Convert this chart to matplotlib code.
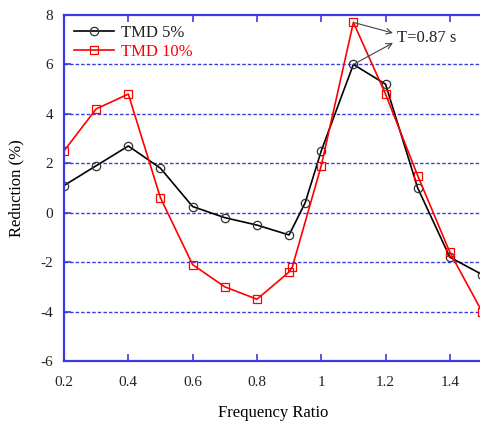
import matplotlib
matplotlib.use("Agg")
import matplotlib.pyplot as plt

# frequency ratio values
ratio_5 = [0.2, 0.3, 0.4, 0.5, 0.6, 0.7, 0.8, 0.9, 0.95, 1.0, 1.1, 1.2, 1.3, 1.4, 1.5]
tmd_5 = [1.1, 1.9, 2.7, 1.8, 0.25, -0.2, -0.5, -0.9, 0.4, 2.5, 6.0, 5.2, 1.0, -1.8, -2.5]

ratio_10 = [0.2, 0.3, 0.4, 0.5, 0.6, 0.7, 0.8, 0.9, 0.91, 1.0, 1.1, 1.2, 1.3, 1.4, 1.5]
tmd_10 = [2.5, 4.2, 4.8, 0.6, -2.1, -3.0, -3.5, -2.4, -2.2, 1.9, 7.7, 4.8, 1.5, -1.6, -4.0]

xticks = [0.2, 0.4, 0.6, 0.8, 1.0, 1.2, 1.4]
xticklabels = ["0.2", "0.4", "0.6", "0.8", "1", "1.2", "1.4"]
yticks = [-6, -4, -2, 0, 2, 4, 6, 8]

blue = "#3a3ae0"
plt.rcParams['font.family'] = ['Liberation Serif', 'DejaVu Serif']
plt.rcParams['axes.unicode_minus'] = False

fig = plt.figure(figsize=(4.8, 4.23), dpi=100)
ax = fig.add_axes([64 / 480, 62 / 423, 418 / 480, 346 / 423])

ax.plot(ratio_5, tmd_5, color="black", lw=1.2, marker="o", ms=6,
        mfc="none", mec="#333333", mew=0.9, label="TMD 5%")
ax.plot(ratio_10, tmd_10, color="red", lw=1.2, marker="s", ms=6,
        mfc="none", mec="red", mew=0.9, label="TMD 10%")

ax.set_xlim(0.2, 1.5)
ax.set_ylim(-6, 8)
ax.set_xticks(xticks)
ax.set_xticklabels(xticklabels)
ax.set_yticks(yticks)

for y in yticks[1:-1]:
    ax.axhline(y, color=blue, lw=1.0, ls=(0, (2.5, 1.5)), zorder=0)

for side in ["left", "bottom", "top"]:
    ax.spines[side].set_color(blue)
    ax.spines[side].set_linewidth(1.6)
ax.spines["right"].set_visible(False)

ax.tick_params(axis="both", direction="in", color=blue, width=1.2, length=5,
               labelsize=11, labelcolor="#222222", top=True)
ax.tick_params(axis="x", pad=11)
ax.tick_params(axis="y", pad=8)

ax.set_xlabel("Frequency Ratio", fontsize=12, labelpad=11)
ax.set_ylabel("Reduction (%)", fontsize=12, labelpad=11)

leg = ax.legend(loc="upper left", frameon=False, fontsize=12,
                handlelength=2.4, borderaxespad=0.2, handletextpad=0.4,
                labelspacing=0.2)
for txt, c in zip(leg.get_texts(), ["#222222", "red"]):
    txt.set_color(c)

ax.text(1.236, 7.07, "T=0.87 s", fontsize=12, va="center", color="#222222")
ax.annotate("", xy=(1.223, 7.27), xytext=(1.1, 7.7),
            arrowprops=dict(arrowstyle="->", color="#444444", lw=0.8,
                            shrinkA=0, shrinkB=0))
ax.annotate("", xy=(1.223, 6.87), xytext=(1.1, 6.0),
            arrowprops=dict(arrowstyle="->", color="#444444", lw=0.8,
                            shrinkA=0, shrinkB=0))

fig.savefig("out.png", dpi=100)
